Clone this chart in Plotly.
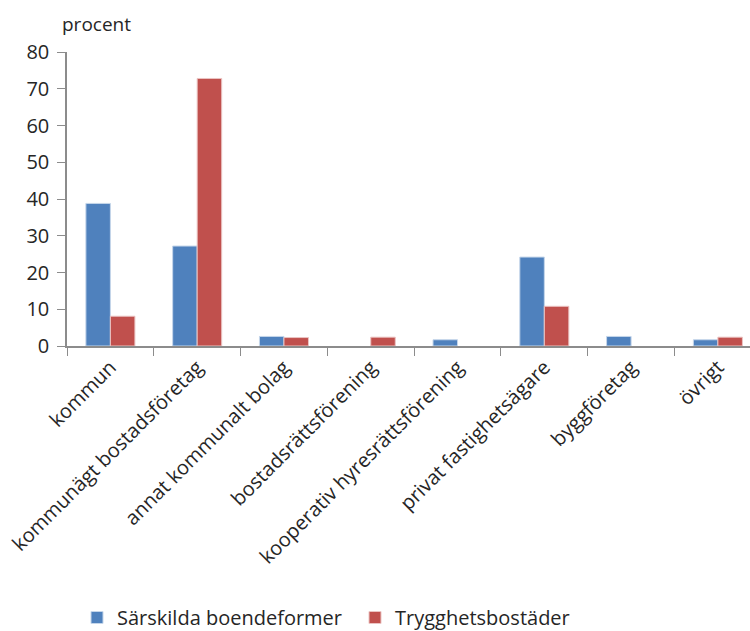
import plotly.graph_objects as go

# Owners of housing units, share in percent
categories = [
    "kommun",
    "kommunägt bostadsföretag",
    "annat kommunalt bolag",
    "bostadsrättsförening",
    "kooperativ hyresrättsförening",
    "privat fastighetsägare",
    "byggföretag",
    "övrigt",
]
sarskilda = [38.8, 27.2, 2.6, 0, 1.7, 24.2, 2.6, 1.7]
trygghet = [8.1, 72.8, 2.3, 2.4, 0, 10.8, 0, 2.4]

y_ticks = [0, 10, 20, 30, 40, 50, 60, 70, 80]

FONT = "Open Sans"
TEXT_COLOR = "#262626"
AXIS_COLOR = "#8c8c8c"


def edge_widths(values):
    # no outline on empty bars so they stay invisible
    return [0 if v == 0 else 1 for v in values]


fig = go.Figure()
fig.add_trace(go.Bar(
    name="Särskilda boendeformer", x=categories, y=sarskilda,
    marker=dict(color="#4f81bd",
                line=dict(color="#c5d6ea", width=edge_widths(sarskilda))),
))
fig.add_trace(go.Bar(
    name="Trygghetsbostäder", x=categories, y=trygghet,
    marker=dict(color="#c0504d",
                line=dict(color="#ebc4c3", width=edge_widths(trygghet))),
))

fig.update_layout(
    width=750, height=631,
    margin=dict(l=67, r=0, t=52, b=285, autoexpand=False),
    paper_bgcolor="white", plot_bgcolor="white",
    barmode="group", bargap=0.435, bargroupgap=0,
    font=dict(family=FONT, size=20, color=TEXT_COLOR),
    showlegend=True,
    legend=dict(
        orientation="h", x=(77 - 67) / 683, xanchor="left",
        y=-(637 - 346) / 294, yanchor="bottom",
        font=dict(family=FONT, size=20, color=TEXT_COLOR),
        itemwidth=30, entrywidth=233, entrywidthmode="pixels",
    ),
)

fig.update_xaxes(
    type="category", range=[-0.5, 7.37],
    showline=True, linecolor=AXIS_COLOR, linewidth=1.5,
    ticks="outside", tickson="boundaries", ticklen=8, tickcolor=AXIS_COLOR,
    tickangle=-45, tickfont=dict(family=FONT, size=20, color=TEXT_COLOR),
    showgrid=False, zeroline=False, automargin=False,
)
fig.update_yaxes(
    range=[0, 80], tickvals=y_ticks,
    showline=True, linecolor=AXIS_COLOR, linewidth=1.5,
    ticks="outside", ticklen=8, tickcolor=AXIS_COLOR,
    ticklabelstandoff=4,
    tickfont=dict(family=FONT, size=20, color=TEXT_COLOR),
    showgrid=False, zeroline=False, automargin=False,
)

fig.add_annotation(
    text="procent", xref="paper", yref="paper",
    x=(60 - 67) / 683, y=1 + (52 - 24) / 294,
    xanchor="left", yanchor="middle", showarrow=False,
    font=dict(family=FONT, size=19, color=TEXT_COLOR),
)

fig.write_html("out.html")
